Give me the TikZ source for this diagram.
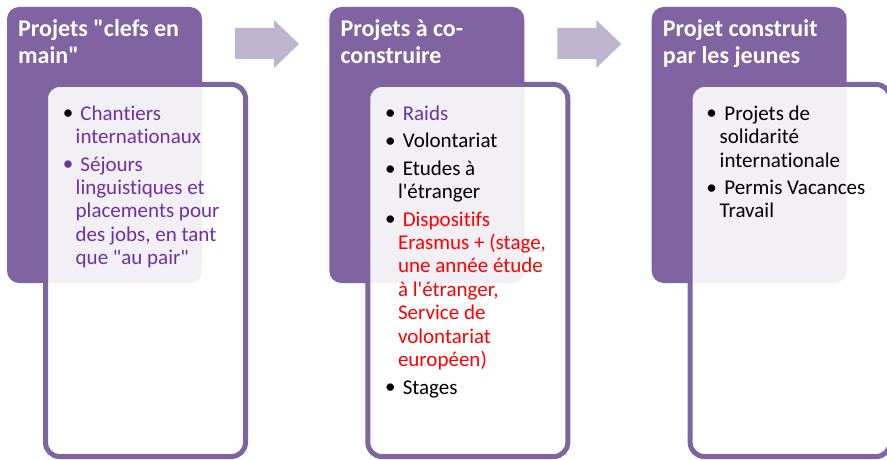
\documentclass[tikz,border=0pt]{standalone}
\usepackage{fontspec}
\setmainfont{Carlito}[Ligatures={TeXOff,CommonOff}]
\definecolor{boxpurple}{HTML}{8064A2}
\definecolor{arrowlav}{HTML}{BEB4D0}
\definecolor{txtpurple}{HTML}{7030A0}
\definecolor{txtred}{HTML}{FF0000}
\begin{document}
\begin{tikzpicture}[x=1pt,y=-1pt,
  hdrbox/.style={fill=boxpurple, draw=none, rounded corners=12pt, minimum width=195pt, minimum height=276pt, inner sep=0pt},
  listbox/.style={draw=boxpurple, line width=5pt, fill=white, fill opacity=0.9, rounded corners=14pt, minimum width=200pt, minimum height=372pt, inner sep=0pt},
  hdrtext/.style={anchor=north west, inner sep=0pt, align=left, text=white, font=\fontsize{24}{26.3}\selectfont\bfseries},
  itemtext/.style={anchor=north west, inner sep=0pt, align=left, font=\fontsize{21}{23.4}\selectfont},
  bul/.style={anchor=base, inner sep=0pt, font=\fontsize{21}{23.4}\selectfont},
  flow/.style={fill=arrowlav, draw=none}]
\useasboundingbox (0,0) rectangle (887,460);

% ---------- panel boxes ----------
\node[hdrbox] (h1) at (104.5,145) {};
\node[listbox] (l1) at (145.5,270.5) {};
\node[hdrbox] (h2) at (426.8,145) {};
\node[listbox] (l2) at (467.8,270.5) {};
\node[hdrbox] (h3) at (749.2,145) {};
\node[listbox] (l3) at (790.2,270.5) {};

% ---------- arrows ----------
\fill[flow] (235,28) -- (274,28) -- (274,20) -- (299,44) -- (274,68) -- (274,59) -- (235,59) -- cycle;
\fill[flow] (557.3,28) -- (596.3,28) -- (596.3,20) -- (621.3,44) -- (596.3,68) -- (596.3,59) -- (557.3,59) -- cycle;

% ---------- titles ----------
\node[hdrtext] (t1) at (18,17.7) {\rule{0pt}{19pt}Projets "clefs en\\main"};
\node[hdrtext] (t2) at (340.3,17.7) {\rule{0pt}{19pt}Projets à co-\\construire};
\node[hdrtext] (t3) at (662.7,17.7) {\rule{0pt}{19pt}Projet construit\\par les jeunes};

% ---------- panel 1 items ----------
\node[bul, text=black] (b1a) at (68,120) {\textbullet};
\node[itemtext, text=txtpurple] (i1a) at (75.5,103) {\rule{0pt}{17pt}\ Chantiers\\internationaux};
\node[bul, text=txtpurple] (b1b) at (68,170.9) {\textbullet};
\node[itemtext, text=txtpurple] (i1b) at (75.5,153.9) {\rule{0pt}{17pt}\ Séjours\\linguistiques et\\placements pour\\des jobs, en tant\\que "au pair"};

% ---------- panel 2 items ----------
\node[bul, text=black] (b2a) at (390.3,120) {\textbullet};
\node[itemtext, text=txtpurple] (i2a) at (397.8,103) {\rule{0pt}{17pt}\ Raids};
\node[bul, text=black] (b2b) at (390.3,147.5) {\textbullet};
\node[itemtext, text=black] (i2b) at (397.8,130.5) {\rule{0pt}{17pt}\ Volontariat};
\node[bul, text=black] (b2c) at (390.3,175) {\textbullet};
\node[itemtext, text=black] (i2c) at (397.8,158) {\rule{0pt}{17pt}\ Etudes à\\l'étranger};
\node[bul, text=black] (b2d) at (390.3,225.9) {\textbullet};
\node[itemtext, text=txtred] (i2d) at (397.8,208.9) {\rule{0pt}{17pt}\ Dispositifs\\Erasmus + (stage,\\une année étude\\à l'étranger,\\Service de\\volontariat\\européen)};
\node[bul, text=black] (b2e) at (390.3,393.8) {\textbullet};
\node[itemtext, text=black] (i2e) at (397.8,376.8) {\rule{0pt}{17pt}\ Stages};

% ---------- panel 3 items ----------
\node[bul, text=black] (b3a) at (711.5,120) {\textbullet};
\node[itemtext, text=black] (i3a) at (719.5,103) {\rule{0pt}{17pt}\ Projets de\\solidarité\\internationale};
\node[bul, text=black] (b3b) at (711.5,194.3) {\textbullet};
\node[itemtext, text=black] (i3b) at (719.5,177.3) {\rule{0pt}{17pt}\ Permis Vacances\\Travail};
\end{tikzpicture}
\end{document}
